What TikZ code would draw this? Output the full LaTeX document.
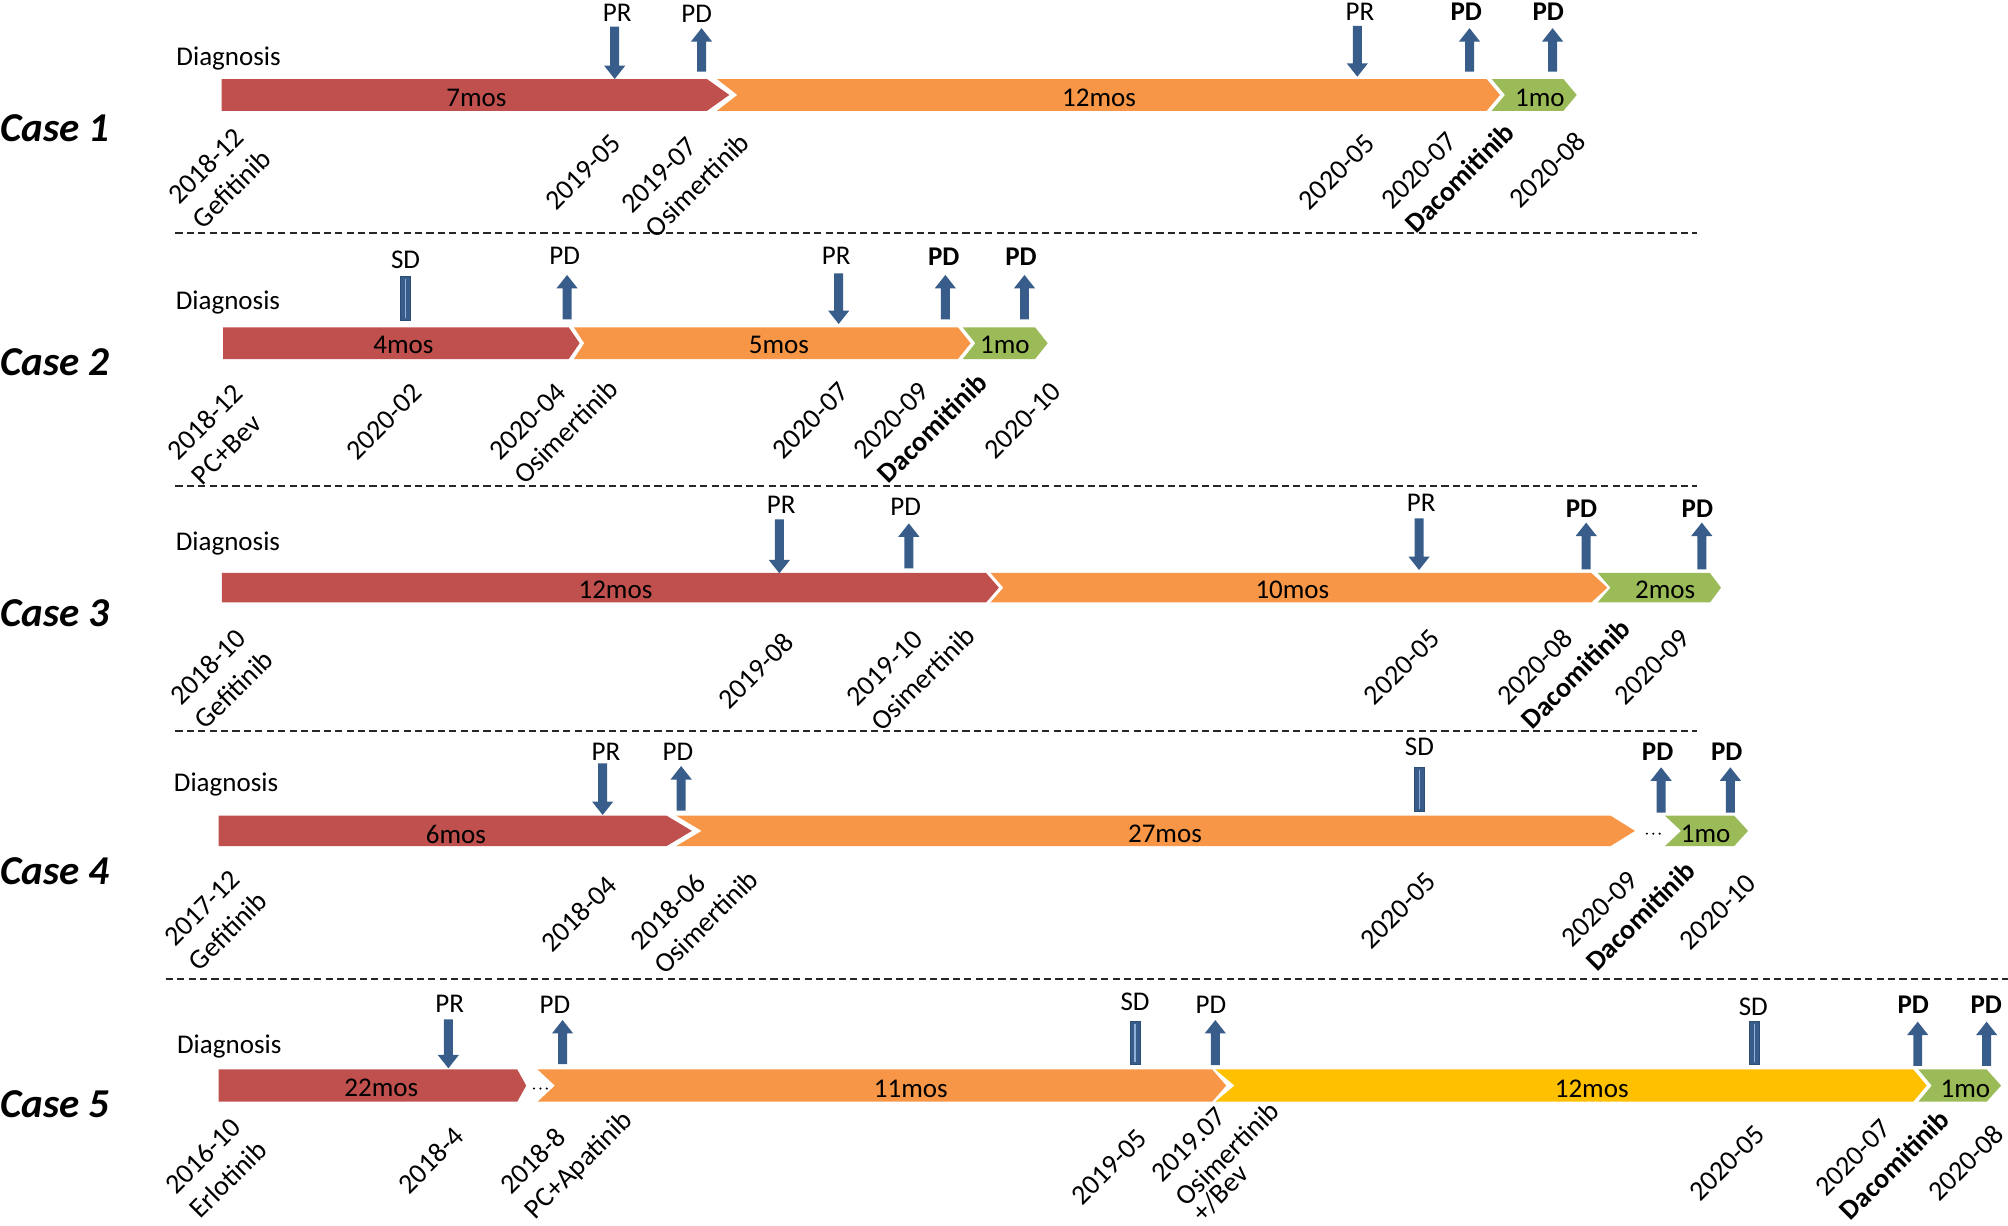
\documentclass[tikz,border=0pt]{standalone}
\usepackage{fontspec}
\setmainfont{Carlito}
\usetikzlibrary{calc}
\definecolor{cred}{HTML}{C0504D}
\definecolor{corange}{HTML}{F79646}
\definecolor{cgreen}{HTML}{9BBB59}
\definecolor{cyellow}{HTML}{FFC000}
\definecolor{cblue}{HTML}{385D8A}
\definecolor{cblueedge}{HTML}{2C4D75}
\definecolor{clight}{HTML}{8FB0DA}
% segment: colour, x0, x tip, y centre, half height, notch depth, tip depth
\newcommand\Seg[7]{\fill[#1] (#2,#4-#5) -- (#3-#7,#4-#5) -- (#3,#4) -- (#3-#7,#4+#5) -- (#2,#4+#5) -- (#2+#6,#4) -- cycle;}
% up arrow: x, y tip, y base
\newcommand\UpA[3]{\fill[cblue] (#1,#2) -- (#1+8.3,#2+10.5) -- (#1+3.5,#2+10.5) -- (#1+3.5,#3) -- (#1-3.5,#3) -- (#1-3.5,#2+10.5) -- (#1-8.3,#2+10.5) -- cycle;}
% down arrow: x, y top, y tip
\newcommand\DnA[3]{\fill[cblue] (#1,#3) -- (#1+8.3,#3-10.5) -- (#1+3.5,#3-10.5) -- (#1+3.5,#2) -- (#1-3.5,#2) -- (#1-3.5,#3-10.5) -- (#1-8.3,#3-10.5) -- cycle;}
% SD marker: x, y top, y bottom
\newcommand\SDm[3]{\filldraw[fill=cblue,draw=cblueedge,line width=0.5pt] (#1-3.9,#2) rectangle (#1+3.9,#3); \draw[clight,line width=0.6pt] (#1,#2+2) -- (#1,#3-2);}
% dots
\newcommand\Dots[2]{\fill[black] (#1-5,#2) circle (0.9) (#1,#2) circle (0.9) (#1+5,#2) circle (0.9);}
% next line of a rotated label
\newcommand\Nxt[3]{\node[lbl,anchor=base west] (#1) at ($(#2.base west)+(19.1,19.1)$) {#3};}
\begin{document}
\begin{tikzpicture}[x=0.64pt,y=-0.64pt,
  lbl/.style={rotate=45,inner sep=0pt,font=\fontsize{14}{16.5}\selectfont},
  txt/.style={inner sep=0pt,font=\fontsize{13.5}{16}\selectfont},
  casel/.style={inner sep=0pt,anchor=west,font=\fontsize{20.5}{24}\selectfont\bfseries\itshape},
  sep/.style={line width=0.85pt,dash pattern=on 3.6pt off 2.1pt,black!85}]
\useasboundingbox (0,0) rectangle (1568,957);

% separators
\coordinate (s1a) at (137,182.2); \coordinate (s1b) at (1325,182.2);
\coordinate (s2a) at (137,379.5); \coordinate (s2b) at (1325,379.5);
\coordinate (s3a) at (137,570.6); \coordinate (s3b) at (1325,570.6);
\coordinate (s4a) at (129.5,764.6); \coordinate (s4b) at (1568,764.6);
\draw[sep] (s1a) -- (s1b);
\draw[sep] (s2a) -- (s2b);
\draw[sep] (s3a) -- (s3b);
\draw[sep] (s4a) -- (s4b);

%================ Case 1
\node[casel] (case1) at (0,100) {Case 1};
\node[txt,anchor=base west] (diag1) at (137.5,50.8) {Diagnosis};
\Seg{cred}{173.1}{569.5}{74.15}{12.45}{0}{17.5}
\Seg{corange}{559.8}{1171.3}{74.15}{12.45}{16}{10.5}
\Seg{cgreen}{1164.8}{1231.2}{74.15}{12.45}{10.4}{10.4}
\node[txt] (m11) at (372,76.8) {7mos};
\node[txt] (m12) at (858.2,76.5) {12mos};
\node[txt] (m13) at (1202.5,76.3) {1mo};
\DnA{480}{20.8}{61.7}
\UpA{547.8}{22}{56}
\DnA{1059.9}{20.3}{59.9}
\UpA{1147.5}{22}{56}
\UpA{1212.4}{22}{56}
\node[txt] (r11) at (482,10) {PR};
\node[txt] (r12) at (544,10.5) {PD};
\node[txt] (r13) at (1062,9.5) {PR};
\node[txt] (r14) at (1145,9.5) {\bfseries PD};
\node[txt] (r15) at (1209,9.5) {\bfseries PD};
\node[lbl] (d11) at (160.6,129.4) {2018-12};
\Nxt{d11b}{d11}{Gefitinib}
\node[lbl] (d12) at (455.5,134.6) {2019-05};
\node[lbl] (d13) at (514.8,136.7) {2019-07};
\Nxt{d13b}{d13}{Osimertinib}
\node[lbl] (d14) at (1043.8,134.6) {2020-05};
\node[lbl] (d15) at (1108,133.3) {2020-07};
\Nxt{d15b}{d15}{\bfseries Dacomitinib}
\node[lbl] (d16) at (1208.3,132.7) {2020-08};

%================ Case 2
\node[casel] (case2) at (0,283) {Case 2};
\node[txt,anchor=base west] (diag2) at (137,242) {Diagnosis};
\Seg{cred}{174.3}{452.6}{268}{12.35}{0}{8.5}
\Seg{corange}{448.2}{757.9}{268}{12.35}{8}{9.9}
\Seg{cgreen}{751.8}{818.1}{268}{12.35}{9.8}{9.8}
\node[txt] (m21) at (315,269.4) {4mos};
\node[txt] (m22) at (608.3,269.4) {5mos};
\node[txt] (m23) at (784.7,269.4) {1mo};
\SDm{316.5}{216}{250}
\UpA{442.8}{214.7}{249.4}
\DnA{654.9}{213.4}{253}
\UpA{738.2}{214.7}{249.4}
\UpA{800}{214.7}{249.4}
\node[txt] (r21) at (316.7,203) {SD};
\node[txt] (r22) at (441,200) {PD};
\node[txt] (r23) at (653,199.5) {PR};
\node[txt] (r24) at (737,200.5) {\bfseries PD};
\node[txt] (r25) at (797.3,200.5) {\bfseries PD};
\node[lbl] (d21) at (160,329.3) {2018-12};
\Nxt{d21b}{d21}{PC+Bev}
\node[lbl] (d22) at (299.8,329.3) {2020-02};
\node[lbl] (d23) at (412,329.3) {2020-04};
\Nxt{d23b}{d23}{Osimertinib}
\node[lbl] (d24) at (633,328.5) {2020-07};
\node[lbl] (d25) at (696,328.5) {2020-09};
\Nxt{d25b}{d25}{\bfseries Dacomitinib}
\node[lbl] (d26) at (798.5,328.5) {2020-10};

%================ Case 3
\node[casel] (case3) at (0,479) {Case 3};
\node[txt,anchor=base west] (diag3) at (137,429.5) {Diagnosis};
\Seg{cred}{173.3}{780}{458.9}{11.5}{0}{10}
\Seg{corange}{773.5}{1255.1}{458.9}{11.5}{10}{12.5}
\Seg{cgreen}{1247.6}{1343.9}{458.9}{11.5}{10}{8.6}
\node[txt] (m31) at (480.6,460.7) {12mos};
\node[txt] (m32) at (1009.2,460.7) {10mos};
\node[txt] (m33) at (1300.3,460.7) {2mos};
\DnA{608.6}{405.5}{447.7}
\UpA{709.7}{408.7}{443.8}
\DnA{1108.1}{404.8}{445.1}
\UpA{1238.6}{408.1}{444.6}
\UpA{1328.9}{408.1}{444.6}
\node[txt] (r31) at (610,394.4) {PR};
\node[txt] (r32) at (707.2,395.7) {PD};
\node[txt] (r33) at (1109.7,393) {PR};
\node[txt] (r34) at (1235,397) {\bfseries PD};
\node[txt] (r35) at (1325.4,397) {\bfseries PD};
\node[lbl] (d31) at (162.4,520.6) {2018-10};
\Nxt{d31b}{d31}{Gefitinib}
\node[lbl] (d32) at (590.1,523.7) {2019-08};
\node[lbl] (d33) at (690.8,521.9) {2019-10};
\Nxt{d33b}{d33}{Osimertinib}
\node[lbl] (d34) at (1094.6,521.1) {2020-05};
\node[lbl] (d35) at (1198.4,520.6) {2020-08};
\Nxt{d35b}{d35}{\bfseries Dacomitinib}
\node[lbl] (d36) at (1290.3,521.1) {2020-09};

%================ Case 4
\node[casel] (case4) at (0,680) {Case 4};
\node[txt,anchor=base west] (diag4) at (135.5,618.2) {Diagnosis};
\Seg{cred}{170.8}{540.3}{648.8}{12}{0}{20}
\Seg{corange}{527.9}{1276.7}{648.8}{12}{20}{19.3}
\Dots{1291}{651}
\Seg{cgreen}{1300}{1365}{648.8}{12}{12.7}{11}
\node[txt] (m41) at (356,652) {6mos};
\node[txt] (m42) at (909.7,651) {27mos};
\node[txt] (m43) at (1331.9,651) {1mo};
\DnA{470.6}{596}{636.4}
\UpA{531.9}{598.2}{633}
\SDm{1108.4}{599.2}{633.8}
\UpA{1297.1}{599.2}{634.6}
\UpA{1351.2}{599.2}{634.6}
\node[txt] (r41) at (473.1,587) {PR};
\node[txt] (r42) at (529.4,587) {PD};
\node[txt] (r43) at (1108.4,583) {SD};
\node[txt] (r44) at (1294.4,587) {\bfseries PD};
\node[txt] (r45) at (1348.4,587) {\bfseries PD};
\node[lbl] (d41) at (157.9,709.3) {2017-12};
\Nxt{d41b}{d41}{Gefitinib}
\node[lbl] (d42) at (451.7,713.7) {2018-04};
\node[lbl] (d43) at (521.4,711.9) {2018-06};
\Nxt{d43b}{d43}{Osimertinib}
\node[lbl] (d44) at (1091.8,711.1) {2020-05};
\node[lbl] (d45) at (1249.1,709.8) {2020-09};
\Nxt{d45b}{d45}{\bfseries Dacomitinib}
\node[lbl] (d46) at (1341.3,712.4) {2020-10};

%================ Case 5
\node[casel] (case5) at (0,862) {Case 5};
\node[txt,anchor=base west] (diag5) at (138,822.5) {Diagnosis};
\Seg{cred}{170.8}{410.9}{847.7}{12.6}{0}{7}
\Dots{422}{850}
\Seg{corange}{419.8}{957.5}{847.7}{12.6}{13.5}{11}
\Seg{cyellow}{949}{1504.5}{847.7}{12.6}{15}{10.5}
\Seg{cgreen}{1498}{1562.6}{847.7}{12.6}{10.4}{11.3}
\node[txt] (m51) at (297.8,849.8) {22mos};
\node[txt] (m52) at (711.2,850) {11mos};
\node[txt] (m53) at (1242.9,850.4) {12mos};
\node[txt] (m54) at (1534.7,850.4) {1mo};
\DnA{350.1}{796}{834.2}
\UpA{439.3}{796.5}{830.9}
\SDm{886.3}{797.8}{830.9}
\UpA{949}{796.5}{831.7}
\SDm{1369.9}{797.3}{830.9}
\UpA{1497.5}{797.8}{832.4}
\UpA{1551.3}{797.8}{832.4}
\node[txt] (r51) at (351.1,783.5) {PR};
\node[txt] (r52) at (433.3,784.8) {PD};
\node[txt] (r53) at (886.3,782.2) {SD};
\node[txt] (r54) at (945.5,784.8) {PD};
\node[txt] (r55) at (1369.1,786.1) {SD};
\node[txt] (r56) at (1494,784.8) {\bfseries PD};
\node[txt] (r57) at (1551,784.8) {\bfseries PD};
\node[lbl] (d51) at (158.4,902.5) {2016-10};
\Nxt{d51b}{d51}{Erlotinib}
\node[lbl] (d52) at (336.2,906) {2018-4};
\node[lbl] (d53) at (415.8,906.5) {2018-8};
\Nxt{d53b}{d53}{PC+Apatinib}
\node[lbl] (d54) at (866.2,911.5) {2019-05};
\node[lbl] (d55) at (928,893.5) {2019.07};
\Nxt{d55b}{d55}{Osimertinib}
\node[lbl,anchor=base west] (d55c) at ($(d55b.base west)+(13,12)$) {+/Bev};
\node[lbl] (d56) at (1348.8,908.5) {2020-05};
\node[lbl] (d57) at (1447.2,904) {2020-07};
\Nxt{d57b}{d57}{\bfseries Dacomitinib}
\node[lbl] (d58) at (1535,908) {2020-08};
\end{tikzpicture}
\end{document}
